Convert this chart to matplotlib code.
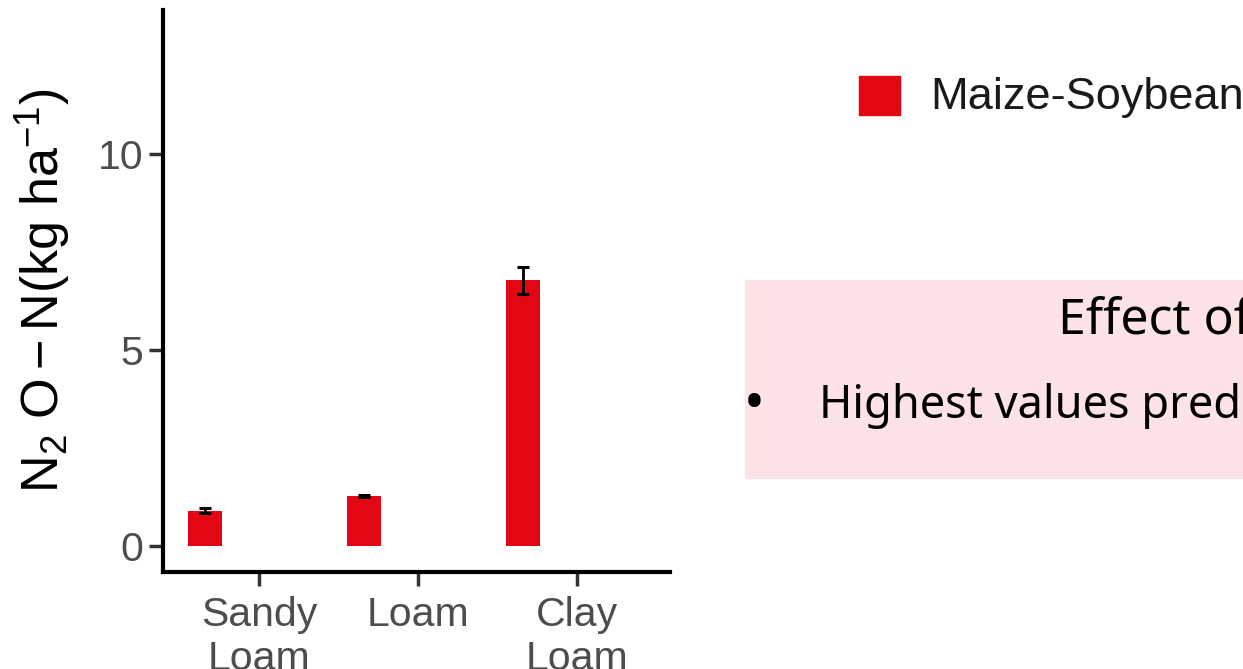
import numpy as np
import matplotlib
matplotlib.use("Agg")
import matplotlib.pyplot as plt
from matplotlib.patches import Rectangle

plt.rcParams['font.family'] = ['Liberation Sans', 'DejaVu Sans']
plt.rcParams['mathtext.fontset'] = 'custom'
plt.rcParams['mathtext.rm'] = 'Liberation Sans'
plt.rcParams['mathtext.it'] = 'Liberation Sans:italic'

# N2O-N emissions by soil texture (maize-soybean rotation)
soils = ["Sandy\nLoam", "Loam", "Clay\nLoam"]
n2o_mean = [0.90, 1.28, 6.78]
n2o_se = [0.06, 0.03, 0.34]
series_name = "Maize-Soybean"
bar_color = "#E30613"

fig = plt.figure(figsize=(12.43, 6.69), dpi=100)
ax = fig.add_axes([163 / 1243, 97 / 669, (670 - 163) / 1243, (572 - 10) / 669])

x = np.arange(1, len(soils) + 1)
offset = -0.34
width = 0.214
ax.bar(x + offset, n2o_mean, width=width, color=bar_color, zorder=2)
ax.errorbar(x + offset, n2o_mean, yerr=n2o_se, fmt="none", ecolor="black",
            elinewidth=2, capsize=4, capthick=2.2, zorder=3)

ax.set_xlim(0.397, 3.585)
ax.set_ylim(-0.66, 13.67)
ax.set_xticks(x)
ax.set_xticklabels(soils, linespacing=1.22)
ax.set_yticks([0, 5, 10])

for side in ["top", "right"]:
    ax.spines[side].set_visible(False)
for side in ["left", "bottom"]:
    ax.spines[side].set_linewidth(3)
    ax.spines[side].set_color("black")

ax.tick_params(axis="both", colors="#333333", width=2.5, length=10,
               labelsize=29.5, labelcolor="#4D4D4D")
ax.tick_params(axis="x", pad=7)
ax.tick_params(axis="y", pad=4)

ax.set_ylabel(r"$\mathregular{N_2\ O - N(kg\ ha^{-1})}$", fontsize=37.5,
              color="black", labelpad=18)

# legend key drawn in figure space
fig.patches.append(Rectangle((859 / 1243, 1 - 115 / 669), 41 / 1243, 39 / 669,
                             transform=fig.transFigure, color=bar_color))
fig.text(930 / 1243, 1 - 98 / 669, series_name, fontsize=32.5, color="#1A1A1A",
         va="center", ha="left")

# side note panel
note_font = ["Noto Sans", "DejaVu Sans"]
fig.patches.append(Rectangle((745 / 1243, 1 - 478 / 669), 600 / 1243, 198 / 669,
                             transform=fig.transFigure, color="#FDE2E6", zorder=0))
fig.text(1058 / 1243, 1 - 333 / 669, "Effect of soil texture", fontsize=36,
         family=note_font, color="black", va="baseline")
fig.text(744 / 1243, 1 - 420 / 669, "\u2022", fontsize=40,
         family=note_font, color="black", va="baseline")
fig.text(819 / 1243, 1 - 418 / 669, "Highest values predicted for clay loam",
         fontsize=32.5, family=note_font, color="black", va="baseline")

fig.savefig("out.png", dpi=100)
